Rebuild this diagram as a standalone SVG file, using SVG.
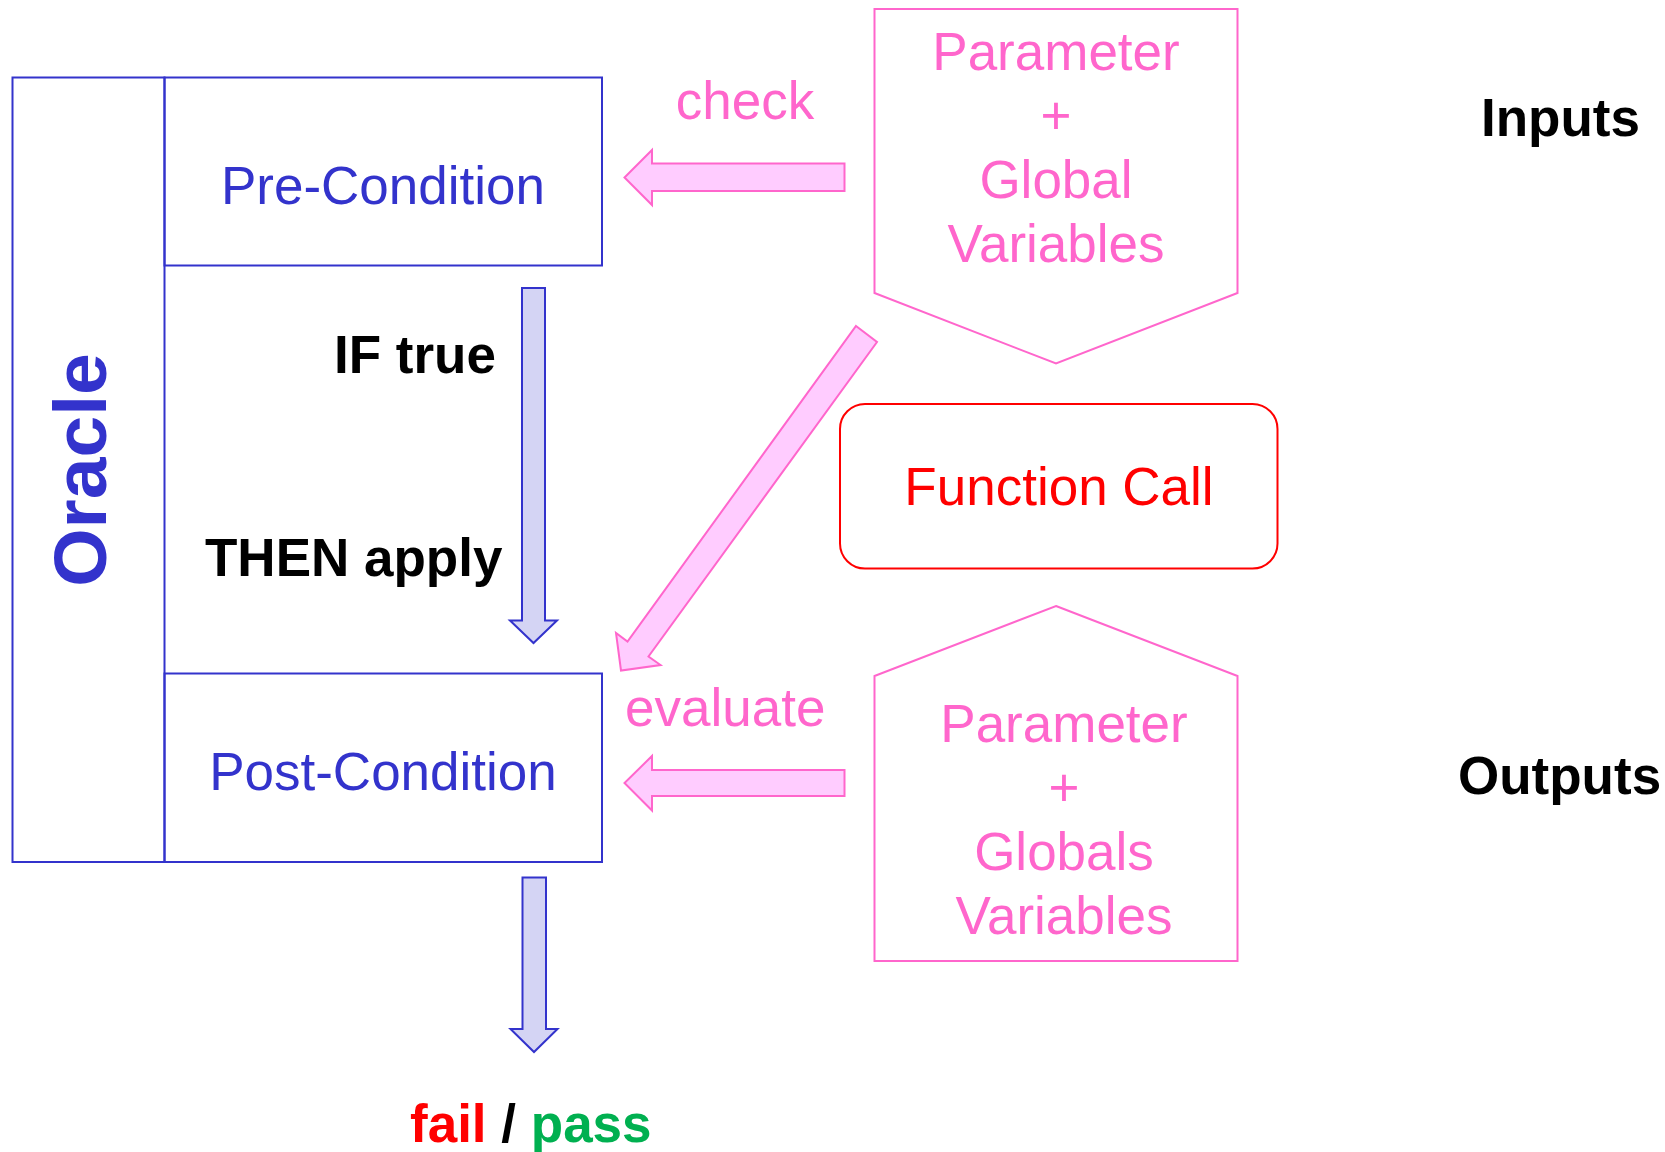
<svg xmlns="http://www.w3.org/2000/svg" width="1665" height="1152" viewBox="0 0 1665 1152">
<style>
text{font-family:"Liberation Sans",Arial,sans-serif;font-size:53px}
.b{font-weight:bold}
.blue{fill:#3333CC}
.pink{fill:#FF66CC}
.box{fill:none;stroke:#3333CC;stroke-width:2}
.pbox{fill:#FFFFFF;stroke:#FF66CC;stroke-width:2}
.parr{fill:#FFCCFF;stroke:#FF66CC;stroke-width:2;stroke-linejoin:miter}
.barr{fill:#D4D4F4;stroke:#3333CC;stroke-width:2}
</style>
<rect width="1665" height="1152" fill="#FFFFFF"/>
<g id="oracle">
<rect class="box" x="12.5" y="77.5" width="152" height="784.5"/>
<text class="b blue" style="font-size:75px" text-anchor="middle" transform="translate(106,470) rotate(-90)">Oracle</text>
</g>
<g id="pre-condition">
<rect class="box" x="164.5" y="77.5" width="437.5" height="188"/>
<text class="blue" x="383" y="204" text-anchor="middle">Pre-Condition</text>
</g>
<g id="post-condition">
<rect class="box" x="164.5" y="673.5" width="437.5" height="188.5"/>
<text class="blue" x="383" y="790" text-anchor="middle">Post-Condition</text>
</g>
<g id="inputs">
<polygon class="pbox" points="874.5,9 1237.5,9 1237.5,293 1056,363.5 874.5,293"/>
<text class="pink" text-anchor="middle"><tspan x="1056" y="70">Parameter</tspan><tspan x="1056" y="134">+</tspan><tspan x="1056" y="198">Global</tspan><tspan x="1056" y="262">Variables</tspan></text>
</g>
<g id="function-call">
<rect x="840" y="404" width="437.5" height="164.5" rx="25" ry="25" fill="#FFFFFF" stroke="#FF0000" stroke-width="2"/>
<text x="1059" y="505" text-anchor="middle" fill="#FF0000">Function Call</text>
</g>
<g id="outputs">
<polygon class="pbox" points="1056,606 1237.5,676 1237.5,961 874.5,961 874.5,676"/>
<text class="pink" text-anchor="middle"><tspan x="1064" y="742">Parameter</tspan><tspan x="1064" y="806">+</tspan><tspan x="1064" y="870">Globals</tspan><tspan x="1064" y="934">Variables</tspan></text>
</g>
<g id="labels">
<text class="b" x="1481" y="136">Inputs</text>
<text class="b" x="1458" y="794">Outputs</text>
<text class="b" x="334" y="373">IF true</text>
<text class="b" x="205" y="576">THEN apply</text>
<text class="b" x="410" y="1142"><tspan fill="#FF0000">fail</tspan> / <tspan fill="#00B050">pass</tspan></text>
</g>
<g id="connectors">
<polygon class="parr" points="844.5,163.5 652,163.5 652,150 624.5,177.5 652,205 652,191 844.5,191"/>
<text class="pink" x="745" y="119" text-anchor="middle">check</text>
<polygon class="parr" points="844.5,770 652,770 652,756 624.5,783 652,810.5 652,796 844.5,796"/>
<text class="pink" x="625" y="726">evaluate</text>
<polygon class="parr" points="856,326 877,342 648.5,656.5 660.5,665 621,670.5 616,633 627.5,641.5"/>
<polygon class="barr" points="522,288 545,288 545,620.5 557,620.5 533.5,643 510,620.5 522,620.5"/>
<polygon class="barr" points="522.5,877.5 546,877.5 546,1029 557.5,1029 534,1052 510.5,1029 522.5,1029"/>
</g>
</svg>
